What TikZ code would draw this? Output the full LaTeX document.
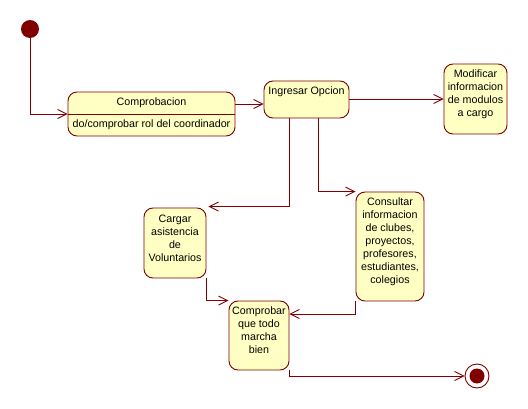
\documentclass[tikz,border=0pt]{standalone}
\usepackage{fontspec}
\setmainfont{Liberation Sans}
\usetikzlibrary{arrows.meta}
\definecolor{umlred}{HTML}{800000}
\definecolor{umlfill}{HTML}{FFFFC4}
\begin{document}
\begin{tikzpicture}[x=1pt,y=-1pt,
  every node/.style={font=\fontsize{10.7}{13}\selectfont},
  statebox/.style={draw=umlred,fill=umlfill,line width=0.9pt,rounded corners=9pt,inner sep=0pt},
  txt/.style={align=center,inner sep=0pt,text=black},
  conn/.style={draw=umlred,line width=0.9pt,-{Straight Barb[length=9pt,width=9pt]}}]
\useasboundingbox[fill=white] (0,0) rectangle (528,409);
% initial and final states
\node[circle,fill=umlred,minimum size=18pt,inner sep=0pt] (ini) at (30,29) {};
\node[circle,draw=umlred,line width=0.9pt,fill=white,minimum size=24pt,inner sep=0pt] (fin) at (477,376) {};
\node[circle,fill=umlred,minimum size=15pt,inner sep=0pt] (finin) at (fin.center) {};
% states
\node[statebox,minimum width=167pt,minimum height=44pt] (comp) at (151.5,114) {};
\draw[umlred,line width=0.9pt] (comp.west) -- (comp.east);
\node[txt] (compt) at (151.5,103) {Comprobacion};
\node[txt] (compd) at (151.5,125) {do/comprobar rol del coordinador};

\node[statebox,minimum width=85pt,minimum height=37pt] (ing) at (306.5,99.5) {};
\node[txt] (ingt) at (306.5,92) {Ingresar Opcion};

\node[statebox,minimum width=63pt,minimum height=70pt] (mod) at (475.5,99) {};
\node[txt] (modt) at (475.5,94.5) {Modificar\\informacion\\de modulos\\a cargo};

\node[statebox,minimum width=68pt,minimum height=109pt] (cons) at (390,246.5) {};
\node[txt] (const) at (390,242) {Consultar\\informacion\\de clubes,\\proyectos,\\profesores,\\estudiantes,\\colegios};

\node[statebox,minimum width=62pt,minimum height=70pt] (carg) at (175,243) {};
\node[txt] (cargt) at (175,238.5) {Cargar\\asistencia\\de\\Voluntarios};

\node[statebox,minimum width=60pt,minimum height=69pt] (compb) at (259,335.5) {};
\node[txt] (compbt) at (259,330.5) {Comprobar\\que todo\\marcha\\bien};
% connectors
\draw[conn] (ini.south) |- (comp.west);
\draw[conn] (comp.east |- 0,104) -- (ing.west |- 0,104);
\draw[conn] (ing.east |- 0,99) -- (mod.west |- 0,99);
\draw[conn] (ing.south -| 318,0) |- (cons.north west);
\draw[conn] (ing.south -| 289,0) |- ([xshift=2pt,yshift=1pt]carg.north east);
\draw[conn] (carg.south east) |- (compb.north west);
\draw[conn] (cons.south west) |- (compb.east |- 0,314);
\draw[conn] (compb.south east) |- (fin.west);
\end{tikzpicture}
\end{document}
